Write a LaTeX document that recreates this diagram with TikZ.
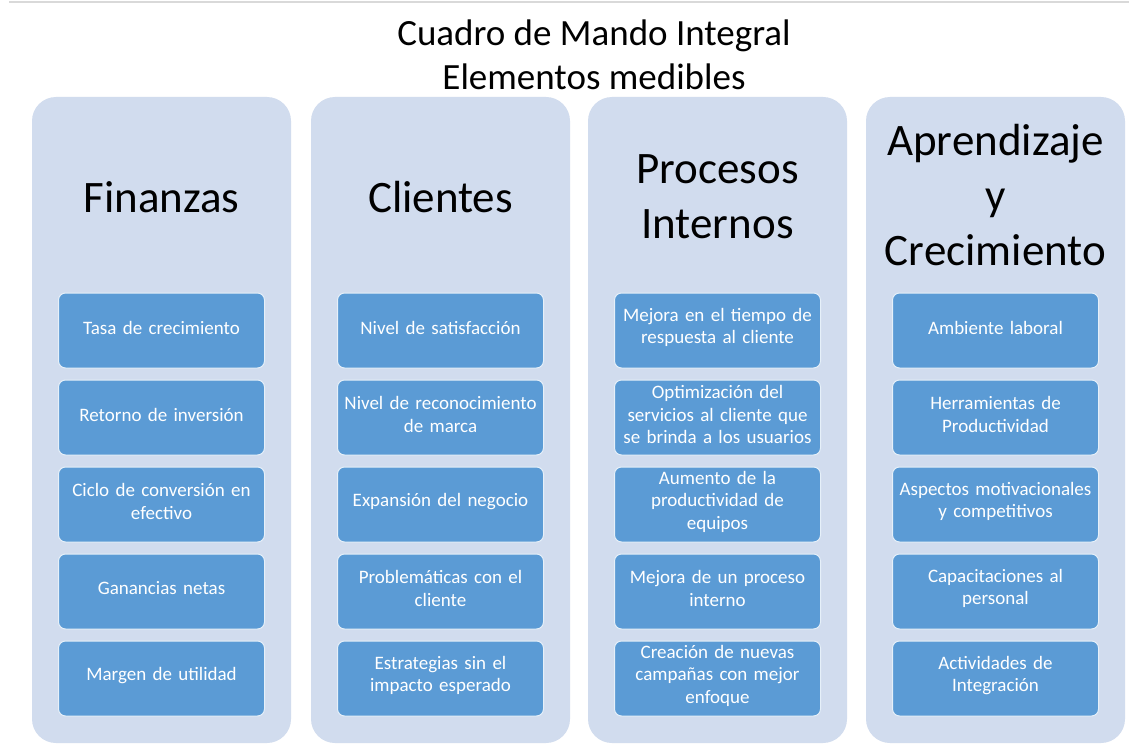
\documentclass[tikz,border=0pt]{standalone}
\usepackage{fontspec}
\setmainfont{Carlito}
\definecolor{colfill}{RGB}{209,220,238}
\definecolor{boxfill}{RGB}{91,155,213}
\definecolor{topline}{RGB}{217,217,217}
\begin{document}
\begin{tikzpicture}[x=1pt,y=-1pt,
  column/.style={fill=colfill, draw=none, rounded corners=24pt},
  itembox/.style={draw=white!85!boxfill, line width=1pt, fill=boxfill, rounded corners=7pt,
     minimum width=206pt, minimum height=75pt, inner sep=0pt},
  itemtext/.style={text width=194pt, align=center, inner sep=0pt,
     text=white, font=\fontsize{19}{22.5}\selectfont},
  heading/.style={align=center, font=\fontsize{45}{55}\selectfont, text=black},
  titletext/.style={align=center, font=\fontsize{37}{44}\selectfont, text=black}]
\useasboundingbox (0,0) rectangle (1129,746);
\fill[white] (0,0) rectangle (1129,746);
\coordinate (lineA) at (9,2);
\coordinate (lineB) at (1129,2);
\draw[topline, line width=2pt] (lineA) -- (lineB);
\node[titletext] (title) at (594,55) {Cuadro de Mando Integral\\Elementos medibles};
% columns
\foreach \i/\x in {1/32,2/311,3/588,4/866}{
  \fill[column] (\x,97) rectangle ++(259,646);
}
\node[heading] (h1) at (161.5,197) {Finanzas};
\node[heading] (h2) at (440.5,197) {Clientes};
\node[heading] (h3) at (717.5,197) {Procesos\\Internos};
\node[heading] (h4) at (995.5,195) {Aprendizaje\\y\\Crecimiento};
% items
\foreach \c/\x/\a/\b/\cc/\d/\e in {
  1/161.5/{Tasa de crecimiento}/{Retorno de inversión}/{Ciclo de conversión en\\efectivo}/{Ganancias netas}/{Margen de utilidad},
  2/440.5/{Nivel de satisfacción}/{Nivel de reconocimiento\\de marca}/{Expansión del negocio}/{Problemáticas con el\\cliente}/{Estrategias sin el\\impacto esperado},
  3/717.5/{Mejora en el tiempo de\\respuesta al cliente}/{Optimización del\\servicios al cliente que\\se brinda a los usuarios}/{Aumento de la\\productividad de\\equipos}/{Mejora de un proceso\\interno}/{Creación de nuevas\\campañas con mejor\\enfoque},
  4/995.5/{Ambiente laboral}/{Herramientas de\\Productividad}/{Aspectos motivacionales\\y competitivos}/{Capacitaciones al\\personal}/{Actividades de\\Integración}}{
  \node[itembox] (b\c-1) at (\x,330.5) {};
  \node[itembox] (b\c-2) at (\x,417.5) {};
  \node[itembox] (b\c-3) at (\x,504.5) {};
  \node[itembox] (b\c-4) at (\x,591.5) {};
  \node[itembox] (b\c-5) at (\x,678.5) {};
  \node[itemtext] (t\c-1) at ([yshift=3pt]b\c-1.center) {\a};
  \node[itemtext] (t\c-2) at ([yshift=3pt]b\c-2.center) {\b};
  \node[itemtext] (t\c-3) at ([yshift=3pt]b\c-3.center) {\cc};
  \node[itemtext] (t\c-4) at ([yshift=3pt]b\c-4.center) {\d};
  \node[itemtext] (t\c-5) at ([yshift=3pt]b\c-5.center) {\e};
}
\end{tikzpicture}
\end{document}
